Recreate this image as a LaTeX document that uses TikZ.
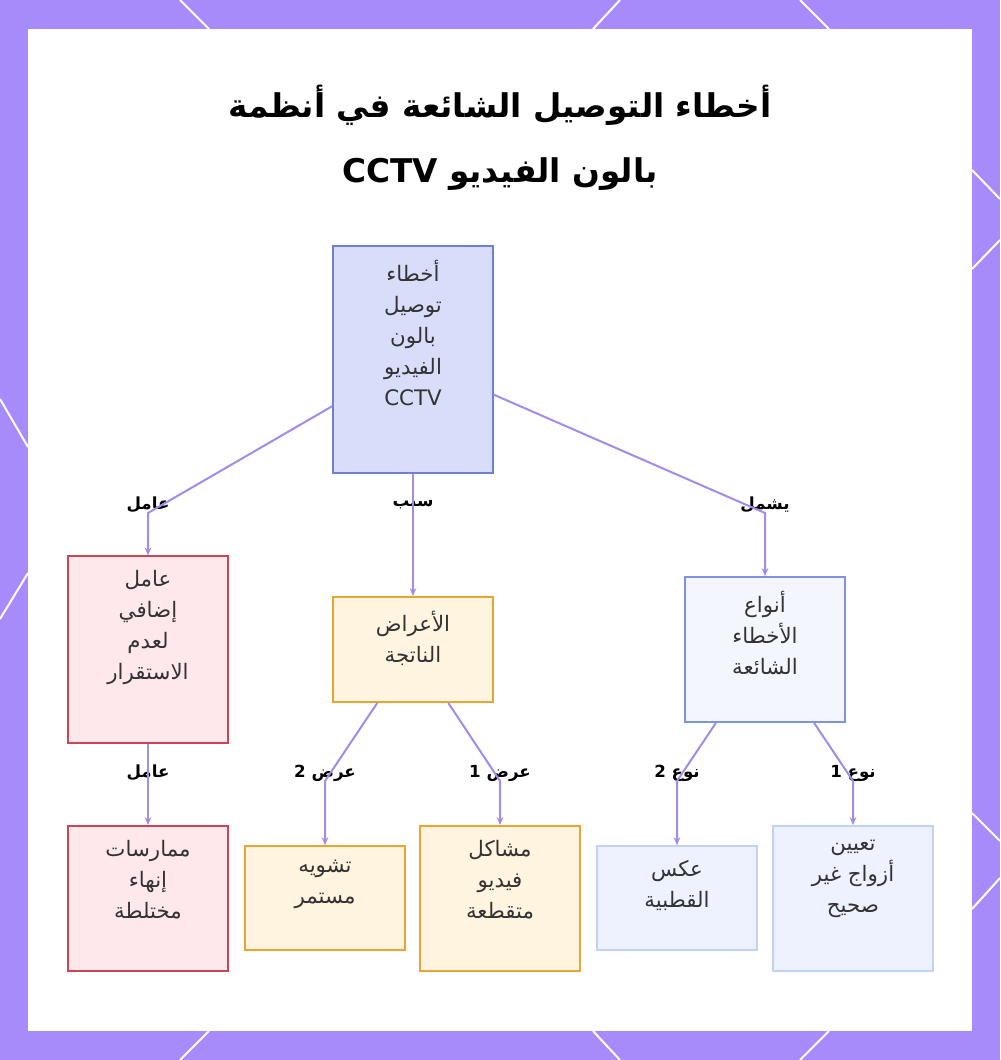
\documentclass[tikz,border=0pt]{standalone}
\usepackage{fontspec}
\setmainfont{DejaVu Sans}
\newfontfamily\arabicfont[Script=Arabic]{DejaVu Sans}
\TeXXeTstate=1
\usetikzlibrary{arrows.meta}

\definecolor{bgviolet}{HTML}{A78BFA}
\definecolor{linkviolet}{HTML}{A38BEA}
\definecolor{rootfill}{HTML}{D8DDFA}
\definecolor{rootdraw}{HTML}{6E7FD6}
\definecolor{pinkfill}{HTML}{FFE8EC}
\definecolor{pinkdraw}{HTML}{CC4455}
\definecolor{orangefill}{HTML}{FFF4E0}
\definecolor{orangedraw}{HTML}{E8A530}
\definecolor{bluefill}{HTML}{F4F6FE}
\definecolor{bluedraw}{HTML}{7C92E2}
\definecolor{palefill}{HTML}{EEF2FF}
\definecolor{paledraw}{HTML}{C5D0F5}
\definecolor{inktext}{HTML}{333333}

\newcommand{\ar}[1]{\beginR #1\endR}
\newcommand{\boxtxt}[2]{\parbox[c][#1][t]{120pt}{\centering\vspace*{10.5pt}#2}}

\begin{document}
\begin{tikzpicture}[x=0.75pt,y=-0.75pt,
  every node/.style={inner sep=0pt,text=inktext,font=\arabicfont\fontsize{16}{23.25}\selectfont},
  box/.style={draw,line width=1.1pt},
  rootbox/.style={box,fill=rootfill,draw=rootdraw},
  pinkbox/.style={box,fill=pinkfill,draw=pinkdraw},
  orangebox/.style={box,fill=orangefill,draw=orangedraw},
  bluebox/.style={box,fill=bluefill,draw=bluedraw},
  palebox/.style={box,fill=palefill,draw=paledraw},
  lbl/.style={text=black,font=\arabicfont\bfseries\fontsize{12.5}{14}\selectfont},
  link/.style={draw=linkviolet,line width=1.5pt,-{Stealth[length=6pt,width=5pt]}}]
  \useasboundingbox (0,0) rectangle (1000,1060);

  %frame
  \fill[bgviolet] (0,0) rectangle (1000,1060);
  \fill[white] (28,29) rectangle (972,1031);
  \draw[white,line width=1.5pt] (180,0) -- (209,29) (620,0) -- (593,29) (800,0) -- (829,29);
  \draw[white,line width=1.5pt] (209,1031) -- (180,1060) (593,1031) -- (620,1060) (829,1031) -- (800,1060);
  \draw[white,line width=1.5pt] (0,399) -- (28,447) (28,573) -- (0,619);
  \draw[white,line width=1.5pt] (972,170) -- (1000,199) (1000,240) -- (972,269) (972,813) -- (1000,841) (1000,878) -- (972,909);

  %title
  \node[text=black,align=center,font=\arabicfont\bfseries\fontsize{24.5}{48.75}\selectfont] (title) at (500,138)
    {\ar{أخطاء التوصيل الشائعة في أنظمة}\\\ar{بالون الفيديو \beginL CCTV\endL}};

  %top node
  \node[rootbox] (root) at (413,359.5) {\boxtxt{170pt}{\ar{أخطاء}\\\ar{توصيل}\\\ar{بالون}\\\ar{الفيديو}\\CCTV}};

  %middle nodes
  \node[pinkbox] (extra) at (148,649.5) {\boxtxt{140pt}{\ar{عامل}\\\ar{إضافي}\\\ar{لعدم}\\\ar{الاستقرار}}};
  \node[orangebox] (symptoms) at (413,649.5) {\boxtxt{79pt}{\ar{الأعراض}\\\ar{الناتجة}}};
  \node[bluebox] (types) at (765,649.5) {\boxtxt{109pt}{\ar{أنواع}\\\ar{الأخطاء}\\\ar{الشائعة}}};

  %bottom nodes
  \node[pinkbox] (mixed) at (148,898.5) {\boxtxt{109pt}{\ar{ممارسات}\\\ar{إنهاء}\\\ar{مختلطة}}};
  \node[orangebox] (distort) at (325,898) {\boxtxt{78pt}{\ar{تشويه}\\\ar{مستمر}}};
  \node[orangebox] (video) at (500,898.5) {\boxtxt{109pt}{\ar{مشاكل}\\\ar{فيديو}\\\ar{متقطعة}}};
  \node[palebox] (polarity) at (677,898) {\boxtxt{78pt}{\ar{عكس}\\\ar{القطبية}}};
  \node[palebox] (pairs) at (853,898.5) {\boxtxt{109pt}{\ar{تعيين}\\\ar{أزواج غير}\\\ar{صحيح}}};

  %labels and bends
  \node[lbl] (l1) at (148,505) {\ar{عامل}};   \coordinate (b1) at (148,513);
  \node[lbl] (l2) at (413,505) {\ar{سبب}};    \coordinate (b2) at (413,513);
  \node[lbl] (l3) at (765,505) {\ar{يشمل}};   \coordinate (b3) at (765,513);
  \node[lbl] (l4) at (148,773) {\ar{عامل}};   \coordinate (b4) at (148,781);
  \node[lbl] (l5) at (325,773) {\ar{عرض 2}};  \coordinate (b5) at (325,781);
  \node[lbl] (l6) at (500,773) {\ar{عرض 1}};  \coordinate (b6) at (500,781);
  \node[lbl] (l7) at (677,773) {\ar{نوع 2}};  \coordinate (b7) at (677,781);
  \node[lbl] (l8) at (853,773) {\ar{نوع 1}};  \coordinate (b8) at (853,781);

  %edges
  \draw[link] (root) -- (b1) -- (extra);
  \draw[link] (root) -- (b2) -- (symptoms);
  \draw[link] (root) -- (b3) -- (types);
  \draw[link] (extra) -- (b4) -- (mixed);
  \draw[link] (symptoms) -- (b5) -- (distort);
  \draw[link] (symptoms) -- (b6) -- (video);
  \draw[link] (types) -- (b7) -- (polarity);
  \draw[link] (types) -- (b8) -- (pairs);
\end{tikzpicture}
\end{document}
